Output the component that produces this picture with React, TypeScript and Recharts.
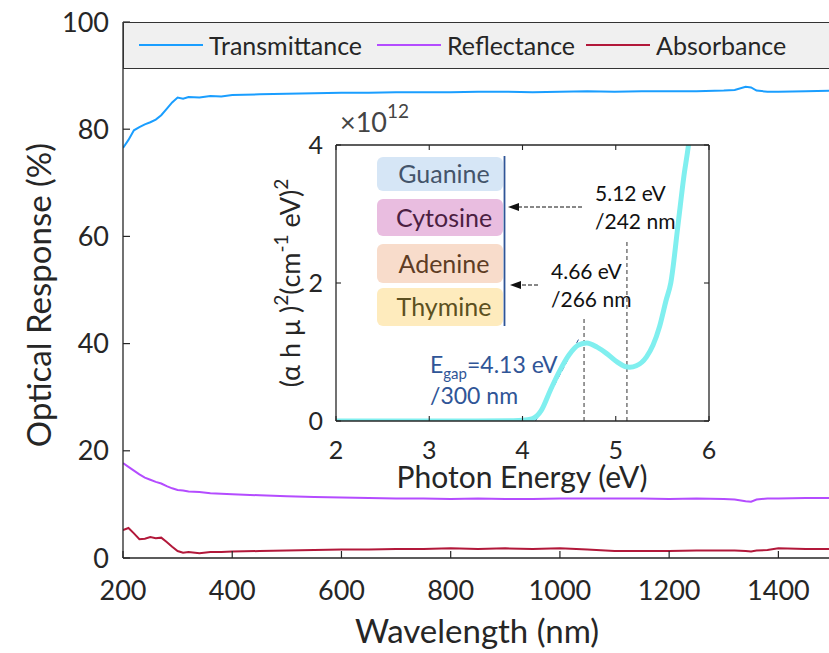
import React from 'react';
import { LineChart, Line, XAxis, YAxis, Legend, Label, ReferenceLine } from 'recharts';

const FONT = 'Lato, "Open Sans", sans-serif';
const TXT = '#262626';
const AX = '#262626';

// ---------- main chart data ----------
const wavelengths = [200, 210, 220, 230, 240, 250, 260, 270, 280, 290, 300, 310, 320, 340, 360, 380, 400, 450, 500, 550, 600, 650, 700, 750, 800, 850, 900, 950, 1000, 1050, 1100, 1150, 1200, 1250, 1300, 1320, 1340, 1350, 1360, 1380, 1400, 1450, 1500];
const transmittance = [76.5, 78.0, 79.8, 80.4, 80.9, 81.3, 81.8, 82.6, 83.8, 85.0, 85.9, 85.7, 86.0, 85.9, 86.2, 86.1, 86.4, 86.5, 86.6, 86.7, 86.8, 86.8, 86.9, 86.9, 86.9, 87.0, 87.0, 86.9, 87.0, 87.1, 87.0, 87.1, 87.1, 87.1, 87.2, 87.3, 87.9, 87.8, 87.2, 87.0, 87.0, 87.1, 87.2];
const reflectance = [17.7, 17.0, 16.3, 15.6, 15.0, 14.6, 14.2, 13.9, 13.4, 13.0, 12.7, 12.6, 12.4, 12.3, 12.1, 12.0, 11.9, 11.7, 11.5, 11.4, 11.3, 11.2, 11.1, 11.1, 11.0, 11.1, 11.0, 11.0, 11.1, 11.1, 11.1, 11.1, 11.0, 11.1, 11.0, 10.9, 10.6, 10.5, 10.9, 11.1, 11.1, 11.2, 11.2];
const absorbance = [5.2, 5.6, 4.6, 3.5, 3.6, 3.9, 3.7, 3.8, 3.0, 2.1, 1.3, 1.0, 1.1, 0.9, 1.1, 1.1, 1.2, 1.3, 1.4, 1.5, 1.6, 1.6, 1.7, 1.7, 1.8, 1.7, 1.8, 1.7, 1.8, 1.6, 1.3, 1.3, 1.3, 1.4, 1.4, 1.4, 1.3, 1.2, 1.4, 1.5, 1.8, 1.7, 1.7];
const mainXTicks = [200, 400, 600, 800, 1000, 1200, 1400];
const mainYTicks = [0, 20, 40, 60, 80, 100];
const seriesNames = ['Transmittance', 'Reflectance', 'Absorbance'];
const seriesColors = ['#1a9eff', '#b44cff', '#b2183a'];

// ---------- inset data ----------
const photonEnergy = [2.0, 2.5, 3.0, 3.5, 3.9, 4.0, 4.1, 4.2, 4.3, 4.4, 4.5, 4.6, 4.69, 4.8, 4.9, 5.0, 5.1, 5.15, 5.22, 5.33, 5.4, 5.47, 5.54, 5.59, 5.67, 5.73, 5.78, 5.85];
const alphaHv2 = [0, 0, 0, 0, 0.005, 0.01, 0.03, 0.15, 0.45, 0.73, 0.96, 1.1, 1.13, 1.07, 0.98, 0.87, 0.79, 0.78, 0.8, 0.93, 1.1, 1.37, 1.75, 2.0, 2.87, 3.54, 4.0, 4.9];
const insetXTicks = [2, 3, 4, 5, 6];
const insetYTicks = [0, 2, 4];
const peakEnergies = [4.66, 5.12];
const peakLineTops = [1.49, 2.62];
const tangentStart = { x: 4.14, y: 0 };
const tangentEnd = { x: 4.6, y: 1.18 };

const bases = ['Guanine', 'Cytosine', 'Adenine', 'Thymine'];
const baseFills = ['#d6e6f6', '#e9bde0', '#f8dccb', '#feebbd'];
const baseText = ['#44546a', '#4b1f42', '#5e3c24', '#5c5021'];

const mainData = wavelengths.map((wl, i) => ({
  wl,
  [seriesNames[0]]: transmittance[i],
  [seriesNames[1]]: reflectance[i],
  [seriesNames[2]]: absorbance[i],
}));
const insetData = photonEnergy.map((e, i) => ({ e, v: alphaHv2[i] }));

// ---------- tick renderers ----------
const MainXTick = (p: any) => (
  <g>
    <line x1={p.x} x2={p.x} y1={p.y} y2={p.y - 7} stroke={AX} strokeWidth={1.2} />
    <text x={p.x} y={p.y + 42} textAnchor="middle" fontSize={27} fontFamily={FONT} fill={TXT}>{p.payload.value}</text>
  </g>
);
const MainYTick = (p: any) => (
  <g>
    <line x1={p.x} x2={p.x + 7} y1={p.y} y2={p.y} stroke={AX} strokeWidth={1.2} />
    <text x={p.x - 14} y={p.y + 9.5} textAnchor="end" fontSize={27} fontFamily={FONT} fill={TXT}>{p.payload.value}</text>
  </g>
);
const MainRightTick = (p: any) => (
  <line x1={p.x} x2={p.x - 7} y1={p.y} y2={p.y} stroke={AX} strokeWidth={1.2} />
);
const InsetXTick = (p: any) => (
  <g>
    <line x1={p.x} x2={p.x} y1={p.y} y2={p.y - 5} stroke={AX} strokeWidth={1.1} />
    <text x={p.x} y={p.y + 38} textAnchor="middle" fontSize={25} fontFamily={FONT} fill={TXT}>{p.payload.value}</text>
  </g>
);
const InsetTopTick = (p: any) => (
  <line x1={p.x} x2={p.x} y1={p.y} y2={p.y + 5} stroke={AX} strokeWidth={1.1} />
);
const InsetYTick = (p: any) => (
  <g>
    <line x1={p.x} x2={p.x + 5} y1={p.y} y2={p.y} stroke={AX} strokeWidth={1.1} />
    <text x={p.x - 13} y={p.y + 8.5} textAnchor="end" fontSize={25} fontFamily={FONT} fill={TXT}>{p.payload.value}</text>
  </g>
);
const InsetRightTick = (p: any) => (
  <line x1={p.x} x2={p.x - 5} y1={p.y} y2={p.y} stroke={AX} strokeWidth={1.1} />
);

const legendX = [15, 253, 462];
const renderLegend = (props: any) => {
  const payload = [...(props.payload || [])].sort(
    (a: any, b: any) => seriesNames.indexOf(a.value) - seriesNames.indexOf(b.value)
  );
  return (
    <div style={{ position: 'relative', width: 720, height: 47, background: '#f0f0f0', border: '1.5px solid #333', boxSizing: 'border-box' }}>
      {payload.map((entry: any, i: number) => (
        <div key={i} style={{ position: 'absolute', left: legendX[i], top: 0, height: 44, display: 'flex', alignItems: 'center', whiteSpace: 'nowrap' }}>
          <svg width={64} height={10} style={{ display: 'block' }}>
            <line x1={0} x2={64} y1={5} y2={5} stroke={entry.color} strokeWidth={2} />
          </svg>
          <span style={{ marginLeft: 6, fontFamily: FONT, fontSize: 25, color: TXT, lineHeight: '25px' }}>{entry.value}</span>
        </div>
      ))}
    </div>
  );
};

export default function App() {
  return (
    <div style={{ position: 'absolute', left: 0, top: 0, width: 829, height: 653, overflow: 'hidden', background: '#fff', fontFamily: FONT }}>
      <div style={{ position: 'absolute', left: 0, top: 0 }}>
        <LineChart width={840} height={653} data={mainData} margin={{ top: 22, right: 0, bottom: 0, left: 0 }}>
          <XAxis dataKey="wl" type="number" domain={[200, 1500]} ticks={mainXTicks} interval={0} height={95}
            tickSize={0} tickMargin={0} tickLine={false} tick={MainXTick} axisLine={{ stroke: AX, strokeWidth: 1.3 }} allowDataOverflow>
            <Label content={() => (
              <text x={477} y={643} textAnchor="middle" fontSize={33} fontFamily={FONT} fill={TXT}>Wavelength (nm)</text>
            )} />
          </XAxis>
          <YAxis yAxisId="l" domain={[0, 100]} ticks={mainYTicks} interval={0} width={123}
            tickSize={0} tickMargin={0} tickLine={false} tick={MainYTick} axisLine={{ stroke: AX, strokeWidth: 1.3 }}>
            <Label content={() => (
              <text transform="translate(38,295) rotate(-90)" textAnchor="middle" dominantBaseline="central" fontSize={33} fontFamily={FONT} fill={TXT}>Optical Response (%)</text>
            )} />
          </YAxis>
          <YAxis yAxisId="r" orientation="right" domain={[0, 100]} ticks={mainYTicks} interval={0} width={7}
            tickSize={0} tickMargin={0} tickLine={false} tick={MainRightTick} axisLine={{ stroke: AX, strokeWidth: 1.3 }} />
          <Legend layout="horizontal" verticalAlign="middle" align="center" content={renderLegend}
            wrapperStyle={{ position: 'absolute', left: 123, top: 22, width: 720, height: 47 }} />
          {seriesNames.map((name, i) => (
            <Line key={name} yAxisId="l" type="linear" dataKey={name} stroke={seriesColors[i]} strokeWidth={2}
              dot={false} activeDot={false} isAnimationActive={false} />
          ))}
        </LineChart>
      </div>

      <div style={{ position: 'absolute', left: 250, top: 100 }}>
        <LineChart width={470} height={400} data={insetData} margin={{ top: 44, right: 10, bottom: 0, left: 0 }}>
          <XAxis xAxisId="b" dataKey="e" type="number" domain={[2, 6]} ticks={insetXTicks} interval={0} height={79}
            tickSize={0} tickMargin={0} tickLine={false} tick={InsetXTick} axisLine={{ stroke: AX, strokeWidth: 1.3 }} allowDataOverflow>
            <Label content={() => (
              <text x={272} y={388} textAnchor="middle" fontSize={30} fontFamily={FONT} fill={TXT}>Photon Energy (eV)</text>
            )} />
          </XAxis>
          <XAxis xAxisId="t" orientation="top" dataKey="e" type="number" domain={[2, 6]} ticks={insetXTicks} interval={0} height={1}
            tickSize={0} tickMargin={0} tickLine={false} tick={InsetTopTick} axisLine={{ stroke: AX, strokeWidth: 1.3 }} allowDataOverflow />
          <YAxis yAxisId="l" domain={[0, 4]} ticks={insetYTicks} interval={0} width={86} allowDataOverflow
            tickSize={0} tickMargin={0} tickLine={false} tick={InsetYTick} axisLine={{ stroke: AX, strokeWidth: 1.3 }}>
            <Label content={() => (
              <g>
                <text transform="translate(50,183) rotate(-90)" textAnchor="middle" fontSize={27} fontFamily={FONT} fill={TXT}>
                  <tspan>(α h μ )</tspan>
                  <tspan fontSize={19} dy={-12}>2</tspan>
                  <tspan dy={12}>(cm</tspan>
                  <tspan fontSize={19} dy={-12}>-1</tspan>
                  <tspan dy={12}> eV)</tspan>
                  <tspan fontSize={19} dy={-12}>2</tspan>
                </text>
                <text x={90} y={32} fontSize={27} fontFamily={FONT} fill="#444">
                  <tspan>×10</tspan>
                  <tspan fontSize={19} dy={-14}>12</tspan>
                </text>
              </g>
            )} />
          </YAxis>
          <YAxis yAxisId="r" orientation="right" domain={[0, 4]} ticks={insetYTicks} interval={0} width={1} allowDataOverflow
            tickSize={0} tickMargin={0} tickLine={false} tick={InsetRightTick} axisLine={{ stroke: AX, strokeWidth: 1.3 }} />
          {peakEnergies.map((pe, i) => (
            <ReferenceLine key={pe} xAxisId="b" yAxisId="l" segment={[{ x: pe, y: 0 }, { x: pe, y: peakLineTops[i] }]}
              stroke="#333" strokeWidth={1} strokeDasharray="4 3" />
          ))}
          <ReferenceLine xAxisId="b" yAxisId="l" segment={[tangentStart, tangentEnd]} stroke="#2f5597" strokeWidth={1} strokeDasharray="5 3" />
          <Line xAxisId="b" yAxisId="l" type="monotone" dataKey="v" stroke="#80efef" strokeWidth={5}
            dot={false} activeDot={false} isAnimationActive={false} />
        </LineChart>
      </div>

      <svg width={829} height={653} style={{ position: 'absolute', left: 0, top: 0, pointerEvents: 'none' }}>
        {bases.map((b, i) => {
          const ys = [157, 199, 244, 288];
          const hs = [34, 37, 39, 38];
          return (
            <g key={b}>
              <rect x={377} y={ys[i]} width={126} height={hs[i]} rx={6} fill={baseFills[i]} />
              <text x={444} y={ys[i] + hs[i] / 2 + 9} textAnchor="middle" fontSize={25} fontFamily={FONT} fill={baseText[i]}>{b}</text>
            </g>
          );
        })}
        <line x1={504.5} x2={504.5} y1={156} y2={326} stroke="#2f5597" strokeWidth={1.8} />
        <line x1={582} x2={517} y1={207} y2={207} stroke="#111" strokeWidth={1} strokeDasharray="4 2" />
        <polygon points="508,207 519,203 519,211" fill="#111" />
        <line x1={538} x2={519} y1={285} y2={285} stroke="#111" strokeWidth={1} strokeDasharray="4 2" />
        <polygon points="510,285 521,281 521,289" fill="#111" />
        <text x={595} y={201} fontSize={21} fontFamily={FONT} fill="#111">5.12 eV</text>
        <text x={595} y={229} fontSize={21} fontFamily={FONT} fill="#111">/242 nm</text>
        <text x={551} y={279} fontSize={21} fontFamily={FONT} fill="#111">4.66 eV</text>
        <text x={551} y={307} fontSize={21} fontFamily={FONT} fill="#111">/266 nm</text>
        <text x={430} y={373} fontSize={23} fontFamily={FONT} fill="#2f5597">
          <tspan>E</tspan>
          <tspan fontSize={15} dy={6}>gap</tspan>
          <tspan dy={-6}>=4.13 eV</tspan>
        </text>
        <text x={430} y={404} fontSize={23} fontFamily={FONT} fill="#2f5597">/300 nm</text>
      </svg>
    </div>
  );
}
